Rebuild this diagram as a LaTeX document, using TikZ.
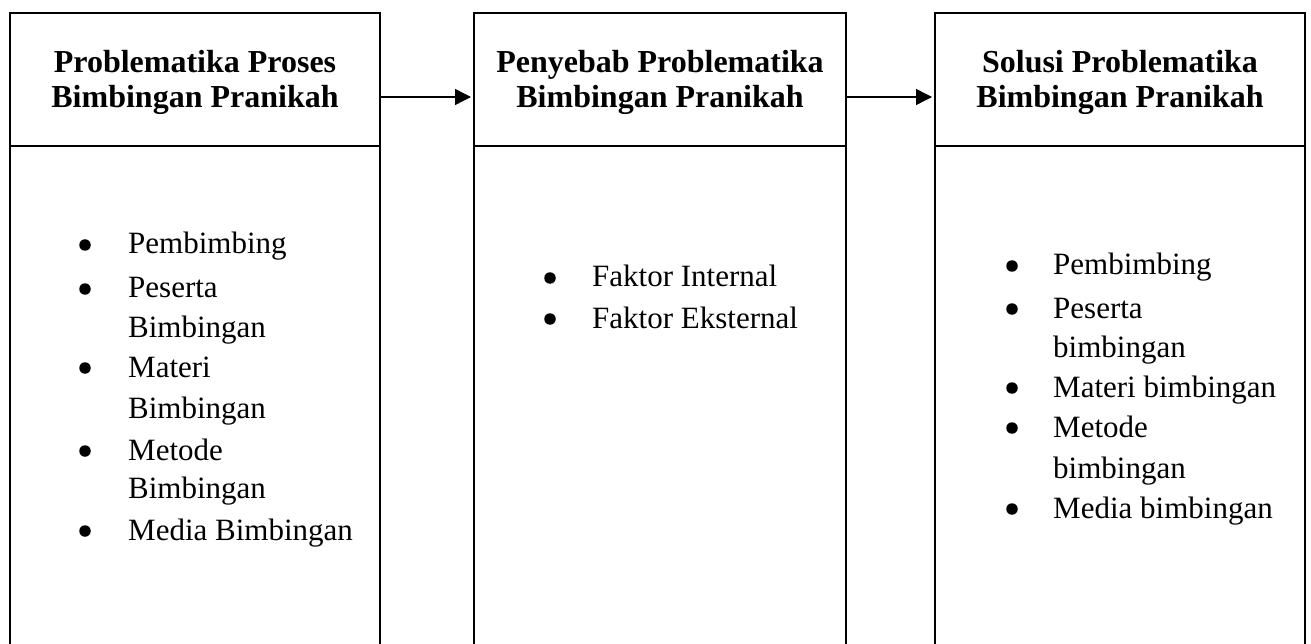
\documentclass[tikz,border=0pt]{standalone}
\usepackage{fontspec}
\setmainfont{Liberation Serif}
\usetikzlibrary{arrows.meta}
\begin{document}
\begin{tikzpicture}[x=1pt,y=-1pt,
  frame/.style={draw, line width=2pt, inner sep=0pt, minimum width=370pt},
  ttl/.style={font=\fontsize{32}{35}\selectfont\bfseries, align=center, inner sep=0pt},
  itm/.style={font=\fontsize{31}{37}\selectfont, inner sep=0pt, anchor=base west},
  bul/.style={circle, fill=black, inner sep=0pt, minimum size=11.5pt},
  arr/.style={draw, line width=1.4pt, shorten >=2pt, -{Triangle[length=16pt,width=16pt]}}]
\useasboundingbox (0,0) rectangle (1311,644);
\clip (0,0) rectangle (1311,644);
% header boxes
\node[frame, minimum height=133pt] (h1) at (195,79.5) {};
\node[frame, minimum height=133pt, minimum width=372pt] (h2) at (660,79.5) {};
\node[frame, minimum height=133pt] (h3) at (1120,79.5) {};
% body boxes (open past the bottom)
\node[frame, minimum height=560pt] (p1) at (195,426) {};
\node[frame, minimum height=560pt, minimum width=372pt] (p2) at (660,426) {};
\node[frame, minimum height=560pt] (p3) at (1120,426) {};
% titles
\node[ttl] (t1) at (195,82) {Problematika Proses\\Bimbingan Pranikah};
\node[ttl] (t2) at (660,82) {Penyebab Problematika\\Bimbingan Pranikah};
\node[ttl] (t3) at (1120,82) {Solusi Problematika\\Bimbingan Pranikah};
% arrows
\draw[arr] ([yshift=-17.5pt]h1.east) -- ([yshift=-17.5pt]h2.west);
\draw[arr] ([yshift=-17.5pt]h2.east) -- ([yshift=-17.5pt]h3.west);
% left list
\foreach \t/\y [count=\i] in {Pembimbing/254, Peserta/298, Bimbingan/337, Materi/377, Bimbingan/418, Metode/460, Bimbingan/498, Media Bimbingan/540}
  \node[itm] (la\i) at (128,\y) {\t};
\foreach \y [count=\i] in {254,298,377,460,540}
  \node[bul] (lb\i) at (85,\y-9) {};
% middle list
\foreach \t/\y [count=\i] in {Faktor Internal/287, Faktor Eksternal/328}
  \node[itm] (ma\i) at (592,\y) {\t};
\foreach \y [count=\i] in {287,328}
  \node[bul] (mb\i) at (550,\y-9) {};
% right list
\foreach \t/\y [count=\i] in {Pembimbing/275, Peserta/318, bimbingan/357, Materi bimbingan/397, Metode/437, bimbingan/478, Media bimbingan/518}
  \node[itm] (ra\i) at (1053,\y) {\t};
\foreach \y [count=\i] in {275,318,397,437,518}
  \node[bul] (rb\i) at (1012,\y-9) {};
\end{tikzpicture}
\end{document}
